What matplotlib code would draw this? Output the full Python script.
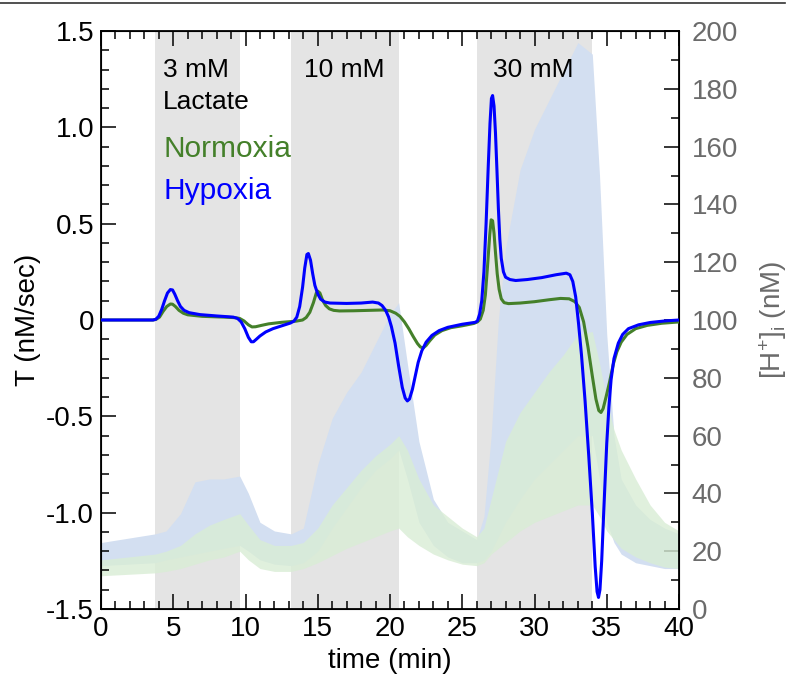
import numpy as np
import matplotlib.pyplot as plt
from matplotlib.lines import Line2D
from matplotlib.ticker import MultipleLocator

plt.rcParams['font.family'] = ['Liberation Sans', 'DejaVu Sans']
plt.rcParams['mathtext.fontset'] = 'custom'
plt.rcParams['mathtext.rm'] = 'Liberation Sans'
plt.rcParams['mathtext.it'] = 'Liberation Sans:italic'
plt.rcParams['axes.unicode_minus'] = False

# lactate pulses (min)
pulses = [(3.75, 9.6), (13.15, 20.6), (26.0, 34.0)]
pulse_labels = ['3 mM', '10 mM', '30 mM']
pulse_label_x = [4.3, 14.05, 27.1]

# mean transport rate T (nM/sec), hypoxia
t_hyp = [0, 3.6, 3.8, 4.0, 4.2, 4.4, 4.6, 4.8, 4.95, 5.1, 5.3, 5.5, 5.75, 6.1, 6.85, 8.0, 9.15,
         9.45, 9.7, 9.95, 10.2, 10.4, 10.55, 10.75, 11.0, 11.4, 11.9, 12.6, 13.1, 13.35, 13.55,
         13.75, 13.95, 14.1, 14.25, 14.35, 14.5, 14.65, 14.8, 15.0, 15.2, 15.5, 15.85, 17.0, 18.0,
         18.8, 19.2, 19.45, 19.7, 19.9, 20.1, 20.35, 20.6, 20.85, 21.05, 21.2, 21.35, 21.55,
         21.75, 21.95, 22.2, 22.5, 22.9, 23.4, 24.0, 25.0, 25.9, 26.05, 26.2, 26.35, 26.5, 26.65,
         26.8, 26.92, 27.02, 27.1, 27.2, 27.3, 27.4, 27.5, 27.6, 27.7, 27.85, 28.0, 28.3, 28.7,
         29.5, 30.5, 31.5, 32.2, 32.45, 32.65, 32.85, 33.05, 33.25, 33.5, 33.75, 34.0, 34.2,
         34.33, 34.43, 34.53, 34.65, 34.8, 35.0, 35.15, 35.3, 35.5, 35.8, 36.1, 36.5, 37.2, 38.0,
         39.0, 40.0]
T_hyp = [0, 0, 0.004, 0.02, 0.055, 0.1, 0.14, 0.158, 0.156, 0.135, 0.1, 0.07, 0.05, 0.038,
         0.028, 0.021, 0.015, 0.008, -0.01, -0.045, -0.09, -0.113, -0.113, -0.1, -0.083, -0.062,
         -0.045, -0.028, -0.016, -0.006, 0.015, 0.07, 0.17, 0.27, 0.34, 0.345, 0.31, 0.24, 0.18,
         0.135, 0.108, 0.093, 0.088, 0.086, 0.088, 0.093, 0.088, 0.075, 0.05, 0.016, -0.035,
         -0.12, -0.24, -0.35, -0.405, -0.42, -0.41, -0.36, -0.29, -0.22, -0.16, -0.115, -0.08,
         -0.055, -0.038, -0.022, -0.012, -0.005, 0.03, 0.1, 0.25, 0.5, 0.8, 1.02, 1.15, 1.165,
         1.11, 0.97, 0.78, 0.58, 0.42, 0.32, 0.25, 0.222, 0.21, 0.205, 0.21, 0.22, 0.235, 0.243,
         0.235, 0.2, 0.12, -0.02, -0.18, -0.42, -0.7, -1.0, -1.28, -1.41, -1.44, -1.4, -1.25,
         -0.98, -0.64, -0.45, -0.31, -0.2, -0.12, -0.075, -0.045, -0.025, -0.013, -0.005, 0.0]

# mean transport rate T (nM/sec), normoxia
t_nor = [0, 3.6, 3.8, 4.05, 4.3, 4.55, 4.8, 4.95, 5.15, 5.4, 5.7, 6.0, 7.0, 8.5, 9.3, 9.6, 9.9,
         10.2, 10.45, 10.7, 11.1, 11.6, 12.5, 13.5, 13.95, 14.2, 14.45, 14.7, 14.9, 15.0, 15.15,
         15.35, 15.55, 15.8, 16.1, 16.5, 17.5, 19.5, 20.0, 20.4, 20.7, 21.0, 21.3, 21.6, 21.9,
         22.1, 22.3, 22.5, 22.75, 23.1, 23.6, 24.2, 25.0, 25.8, 26.05, 26.25, 26.45, 26.6, 26.75,
         26.9, 27.0, 27.1, 27.2, 27.3, 27.42, 27.55, 27.7, 27.9, 28.2, 29.0, 30.0, 31.0, 31.8,
         32.4, 32.8, 33.1, 33.4, 33.7, 34.0, 34.25, 34.45, 34.6, 34.75, 34.95, 35.2, 35.45, 35.7,
         36.0, 36.4, 37.0, 37.8, 38.8, 40.0]
T_nor = [0, 0, 0.003, 0.015, 0.045, 0.07, 0.083, 0.082, 0.07, 0.05, 0.035, 0.027, 0.019, 0.015,
         0.012, 0.008, -0.005, -0.025, -0.036, -0.035, -0.028, -0.02, -0.012, -0.006, 0.0, 0.013,
         0.04, 0.09, 0.14, 0.15, 0.14, 0.1, 0.075, 0.058, 0.05, 0.047, 0.048, 0.052, 0.048,
         0.035, 0.018, -0.01, -0.045, -0.085, -0.122, -0.14, -0.145, -0.132, -0.108, -0.078,
         -0.055, -0.04, -0.03, -0.018, -0.01, 0.005, 0.05, 0.13, 0.28, 0.44, 0.52, 0.515, 0.45,
         0.35, 0.24, 0.16, 0.11, 0.09, 0.085, 0.088, 0.095, 0.105, 0.112, 0.11, 0.095, 0.065,
         -0.01, -0.14, -0.29, -0.41, -0.47, -0.48, -0.46, -0.4, -0.32, -0.23, -0.165, -0.115,
         -0.075, -0.045, -0.028, -0.017, -0.01]

# single cell [H+]i (nM) band, read at these times
t_cell = [0, 3.75, 4.5, 5.5, 6.5, 7.5, 8.5, 9.6, 10.2, 11, 12, 13.15, 14, 15, 16, 17, 18, 19, 20,
          20.6, 21.2, 22, 23, 24, 25, 26, 26.5, 27, 27.5, 28, 29, 30, 31, 32, 33, 34, 34.5, 35,
          35.5, 36, 37, 38, 39, 40]
hyp_hi = [23, 26, 27, 33, 44, 45, 45, 46, 40, 30, 27, 26, 28, 50, 66, 75, 82, 92, 102, 106, 85,
          58, 38, 30, 27, 24, 32, 60, 100, 125, 152, 166, 176, 186, 196, 192, 150, 95, 60, 45, 36,
          31, 28, 26]
hyp_lo = [15, 16, 17, 18, 19, 20, 21, 22, 20, 17, 15.5, 15, 16, 20, 28, 35, 42, 48, 52, 55, 45,
          30, 22, 18, 16, 16, 17, 20, 25, 30, 38, 45, 50, 55, 60, 60, 45, 30, 23, 19, 16, 15, 14,
          14]
nor_hi = [17, 19, 20, 22, 26, 29, 31, 33, 29, 24, 22, 22, 23, 28, 36, 42, 48, 53, 57, 60, 55,
          45, 36, 32, 28, 25, 28, 38, 48, 58, 68, 75, 82, 88, 95, 96, 85, 72, 62, 55, 45, 36, 30,
          27]
nor_lo = [11.5, 12.5, 13, 14, 15.5, 17, 18, 20, 17, 14, 13, 13, 14, 16, 18.5, 21, 23, 25, 27, 28,
          25, 22, 19, 17, 15.5, 15, 16, 19, 21, 23, 27, 30, 32, 34, 36, 36, 32, 27, 24, 21, 18,
          16, 14.5, 14]

fig = plt.figure(figsize=(7.89, 6.75), dpi=100)
ax = fig.add_axes([101 / 789, 1 - 609 / 675, 578 / 789, 578 / 675])
ax2 = ax.twinx()
ax.set_zorder(ax2.get_zorder() + 1)
ax.patch.set_visible(False)

# shading + cell traces go on the [H+] axis, underneath
for a, b in pulses:
    ax2.axvspan(a, b, color='#e4e4e4', lw=0, zorder=0)
ax2.fill_between(t_cell, hyp_lo, hyp_hi, color='#d3dff1', lw=0, zorder=1)
ax2.fill_between(t_cell, nor_lo, nor_hi, color='#d9edd5', alpha=0.8, lw=0, zorder=2)
ax2.set_ylim(0, 200)
ax2.yaxis.set_major_locator(MultipleLocator(20))
ax2.yaxis.set_minor_locator(MultipleLocator(10))
ax2.tick_params(axis='y', which='both', direction='in', labelsize=20, labelcolor='#6b6b6b',
                pad=9, width=1.1)
ax2.tick_params(axis='y', which='major', length=11)
ax2.tick_params(axis='y', which='minor', length=6)
ax2.set_ylabel(r'[H$^{+}$]$_{\mathregular{i}}$ (nM)', fontsize=20, color='#6b6b6b', labelpad=14)

# mean curves
ax.plot(t_nor, T_nor, color='#44802a', lw=2.2, zorder=3, solid_joinstyle='round')
ax.plot(t_hyp, T_hyp, color='#0000ff', lw=2.2, zorder=4, solid_joinstyle='round')

for lab, x in zip(pulse_labels, pulse_label_x):
    ax.text(x, 1.26, lab, fontsize=19, ha='left', va='baseline')
ax.text(4.3, 1.095, 'Lactate', fontsize=19, ha='left', va='baseline')
ax.text(4.3, 0.846, 'Normoxia', fontsize=21.5, color='#44802a', ha='left', va='baseline')
ax.text(4.3, 0.63, 'Hypoxia', fontsize=21.5, color='#0000ff', ha='left', va='baseline')

ax.set_xlim(0, 40)
ax.set_ylim(-1.5, 1.5)
ax.xaxis.set_major_locator(MultipleLocator(5))
ax.xaxis.set_minor_locator(MultipleLocator(1))
ax.yaxis.set_minor_locator(MultipleLocator(0.1))
ax.set_yticks([-1.5, -1.0, -0.5, 0, 0.5, 1.0, 1.5])
ax.set_yticklabels(['-1.5', '-1.0', '-0.5', '0', '0.5', '1.0', '1.5'])
ax.tick_params(which='both', direction='in', top=True, labelsize=20, width=1.1, pad=5)
ax.tick_params(which='major', length=11)
ax.tick_params(which='minor', length=6)
for s in ax.spines.values():
    s.set_linewidth(1.3)
ax.set_xlabel('time (min)', fontsize=20, labelpad=4)
ax.set_ylabel('T (nM/sec)', fontsize=20, labelpad=4)

fig.add_artist(Line2D([0, 0.995], [1 - 3 / 675, 1 - 3 / 675], color='#333333', lw=1.2))

fig.savefig('out.png', dpi=100)
